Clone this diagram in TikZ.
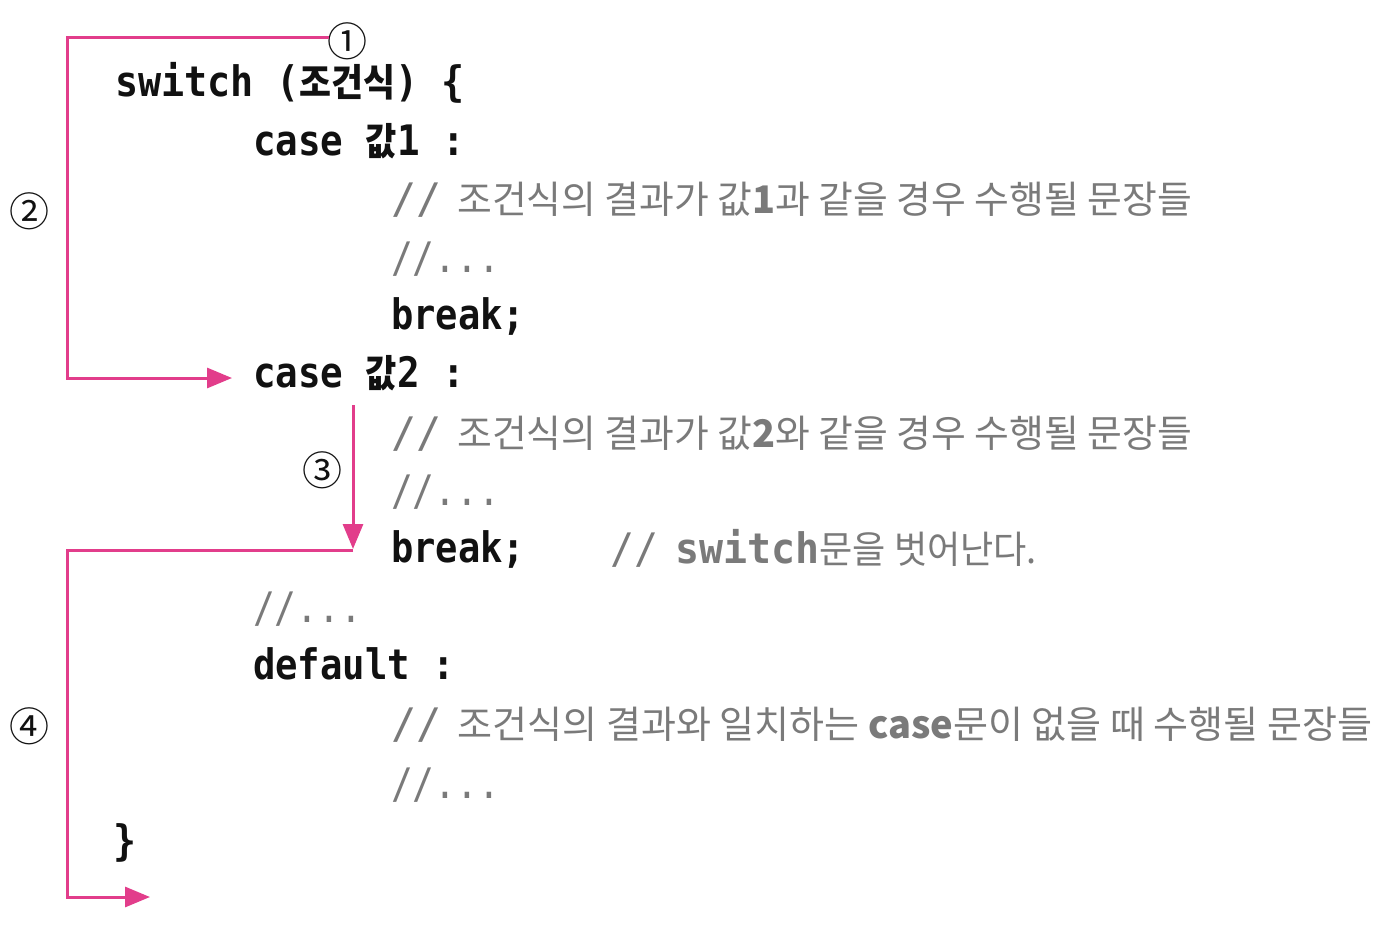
\documentclass[tikz,border=0pt]{standalone}
\usepackage{fontspec}
\usepackage{graphicx}
\usetikzlibrary{arrows.meta}
\setmonofont{DejaVu Sans Mono}
\newfontfamily\krfont{Noto Sans CJK KR}
\newfontfamily\numfont{Noto Sans CJK KR}
\definecolor{pk}{HTML}{E23D8B}
\definecolor{cm}{HTML}{7A7A7A}
\definecolor{ink}{HTML}{111111}
\newcommand\cf{\fontsize{21pt}{21pt}\selectfont\ttfamily\bfseries}
\newcommand\kb{\fontsize{19pt}{19pt}\selectfont\krfont\bfseries}
\newcommand\cmono{\fontsize{21pt}{21pt}\selectfont\ttfamily\mdseries}
\newcommand\kc{\fontsize{19pt}{19pt}\selectfont\krfont\mdseries}
\newcommand\fitw[2]{\resizebox{#1}{\height}{#2}}
\begin{document}
\begin{tikzpicture}[x=0.5pt,y=-0.5pt,
  every node/.style={inner sep=0pt,outer sep=0pt},
  codeline/.style={anchor=base west,text=ink},
  cmt/.style={anchor=base west,text=cm},
  conn/.style={draw=pk,line width=1.5pt},
  arr/.style={conn,-{Triangle[length=12.5pt,width=10pt]}},
  num/.style={font=\numfont\fontsize{20pt}{20pt}\selectfont,text=ink}]
\fill[white] (0,0) rectangle (1400,946);
\useasboundingbox (0,0) rectangle (1400,946);

% code lines
\node[codeline] (sw) at (115,97) {\fitw{175pt}{\cf switch (\kb 조건식\cf ) \{}};
\node[codeline] (case1) at (253,156) {\fitw{106pt}{\cf case \kb 값\cf 1 :}};
\node[cmt] (c1) at (391,214) {\fitw{400.5pt}{\cmono//\hspace{8pt}\kc 조건식의 결과가 값{\bfseries 1}과 같을 경우 수행될 문장들}};
\node[cmt] (d1) at (391,273) {\fitw{54.5pt}{\cmono //...}};
\node[codeline] (br1) at (391,329) {\fitw{67pt}{\cf break;}};
\node[codeline] (case2) at (253,387) {\fitw{106pt}{\cf case \kb 값\cf 2 :}};
\node[cmt] (c2) at (391,447) {\fitw{400.5pt}{\cmono//\hspace{8pt}\kc 조건식의 결과가 값{\bfseries 2}와 같을 경우 수행될 문장들}};
\node[cmt] (d2) at (391,505) {\fitw{54.5pt}{\cmono //...}};
\node[codeline] (br2) at (391,562) {\fitw{67pt}{\cf break;}};
\node[cmt] (c3) at (610,563) {\fitw{213.5pt}{\cmono//\hspace{9pt}{\bfseries switch}\kc 문을 벗어난다.}};
\node[cmt] (d3) at (253,622) {\fitw{54.5pt}{\cmono //...}};
\node[codeline] (def) at (253,679) {\fitw{101pt}{\cf default :}};
\node[cmt] (c4) at (391,738) {\fitw{490.5pt}{\cmono//\hspace{8pt}\kc 조건식의 결과와 일치하는 {\bfseries case}문이 없을 때 수행될 문장들}};
\node[cmt] (d4) at (391,798) {\fitw{54.5pt}{\cmono //...}};
\node[codeline] (cl) at (113,855) {\fitw{11.5pt}{\cf \}}};

% circled numbers
\node[num] (n1) at (347,41) {①};
\node[num] (n2) at (30,211) {②};
\node[num] (n3) at (322,470) {③};
\node[num] (n4) at (30,726) {④};

% connector coordinates
\coordinate (a0) at (329,38);
\coordinate (a1) at (67,38);
\coordinate (a2) at (67,378);
\coordinate (a3) at (232,378);
\coordinate (b0) at (353,405);
\coordinate (b1) at (353,549);
\coordinate (c0) at (353,550);
\coordinate (c1) at (67,550);
\coordinate (c2) at (67,897);
\coordinate (c3) at (150,897);

\draw[arr] (a0) -- (a1) -- (a2) -- (a3);
\draw[arr] (b0) -- (b1);
\draw[arr] (c0) -- (c1) -- (c2) -- (c3);
\end{tikzpicture}
\end{document}
